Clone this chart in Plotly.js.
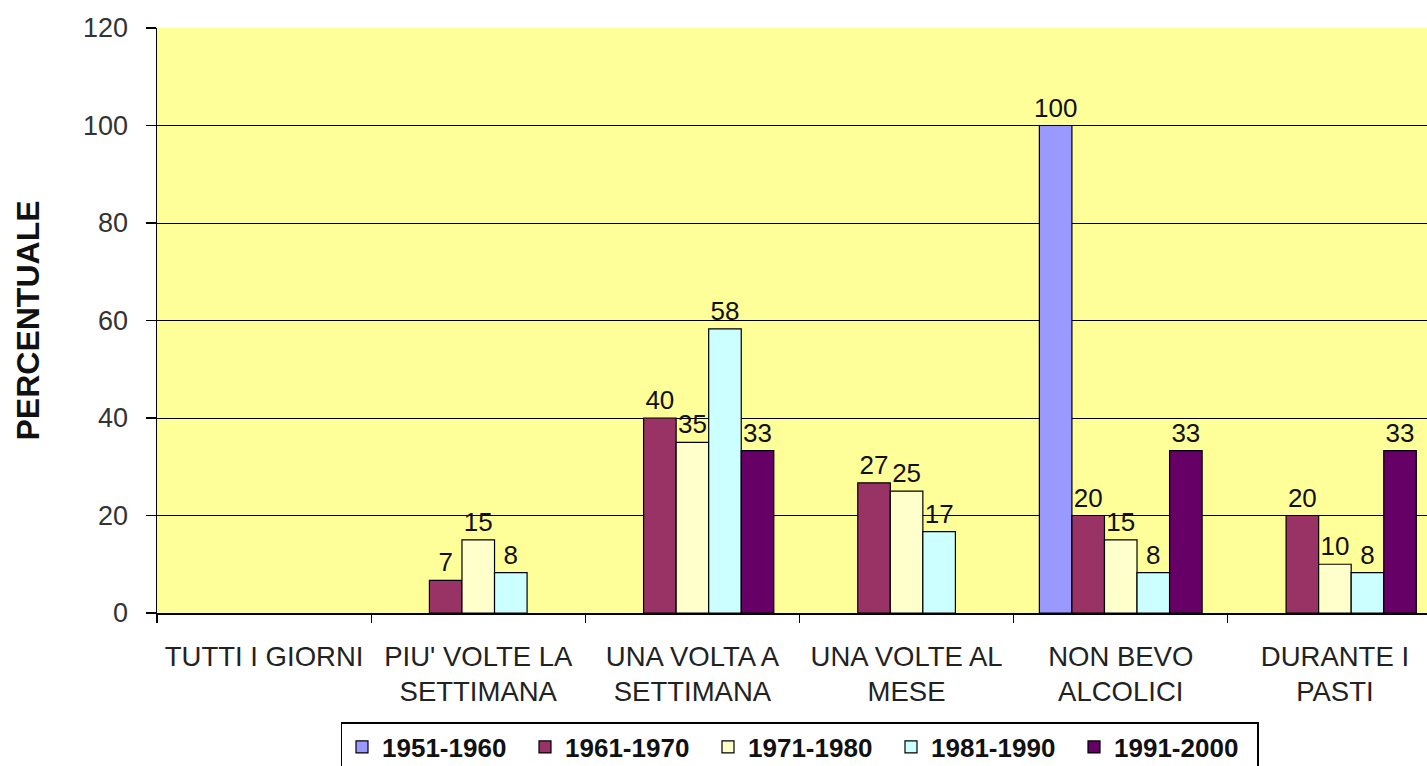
<!DOCTYPE html>
<html>
<head>
<meta charset="utf-8">
<script src="https://cdn.plot.ly/plotly-3.0.1.min.js"></script>
<style>
html, body { margin: 0; padding: 0; overflow: hidden; background: #ffffff; }
#chart { width: 1460px; height: 766px; }
</style>
</head>
<body>
<div id="chart"></div>
<script>
const categories = [
  "TUTTI I GIORNI",
  "PIU' VOLTE LA<br>SETTIMANA",
  "UNA VOLTA A<br>SETTIMANA",
  "UNA VOLTE AL<br>MESE",
  "NON BEVO<br>ALCOLICI",
  "DURANTE I<br>PASTI"
];
const seriesNames = ["1951-1960", "1961-1970", "1971-1980", "1981-1990", "1991-2000"];
const s1951 = [null, null, null, null, 100, null];
const s1961 = [null, 6.7, 40, 26.7, 20, 20];
const s1971 = [null, 15, 35, 25, 15, 10];
const s1981 = [null, 8.3, 58.3, 16.7, 8.3, 8.3];
const s1991 = [null, null, 33.3, null, 33.3, 33.3];
const seriesValues = [s1951, s1961, s1971, s1981, s1991];
const seriesColors = ["#9999FF", "#993366", "#FFFFCC", "#CCFFFF", "#660066"];
const yTicks = [0, 20, 40, 60, 80, 100, 120];

const FONT = "Liberation Sans, Arial, Helvetica, sans-serif";

const traces = seriesNames.map((name, i) => ({
  type: "bar",
  name: name,
  x: categories,
  y: seriesValues[i],
  marker: { color: seriesColors[i], line: { color: "#000000", width: 1.2 } },
  text: seriesValues[i].map(v => v === null ? "" : String(Math.round(v))),
  textposition: "outside",
  constraintext: "none",
  textfont: { family: FONT, size: 26, color: "#111111" },
  cliponaxis: false,
  hoverinfo: "x+y+name"
}));

const layout = {
  width: 1460,
  height: 766,
  margin: { l: 157, r: 18, t: 28, b: 153, autoexpand: false },
  paper_bgcolor: "#ffffff",
  plot_bgcolor: "#FFFF99",
  font: { family: FONT, size: 26, color: "#222222" },
  barmode: "group",
  bargap: 0.24,
  bargroupgap: 0,
  showlegend: true,
  legend: {
    orientation: "h",
    xref: "paper",
    x: 0.5, xanchor: "center",
    yref: "container",
    y: 0.0574, yanchor: "top",
    bgcolor: "#ffffff",
    bordercolor: "#000000",
    borderwidth: 1.5,
    font: { family: FONT, size: 26, color: "#111111", weight: "bold" },
    entrywidth: 138,
    itemwidth: 30,
    traceorder: "normal"
  },
  xaxis: {
    type: "category",
    tickson: "boundaries",
    ticks: "outside",
    ticklen: 8,
    tickcolor: "#000000",
    tickwidth: 1.2,
    ticklabelstandoff: 18,
    showline: true,
    linecolor: "#000000",
    linewidth: 1.5,
    showgrid: false,
    tickfont: { family: FONT, size: 27.5, color: "#222222" },
    automargin: false
  },
  yaxis: {
    range: [0, 120],
    tickvals: yTicks,
    ticktext: yTicks.map(String),
    ticks: "outside",
    ticklen: 10,
    tickcolor: "#000000",
    tickwidth: 1.2,
    ticklabelstandoff: 12,
    showline: true,
    linecolor: "#000000",
    linewidth: 1.5,
    showgrid: true,
    gridcolor: "#000000",
    gridwidth: 1,
    zeroline: false,
    tickfont: { family: FONT, size: 27, color: "#333333" },
    automargin: false,
    title: {
      text: "PERCENTUALE",
      font: { family: FONT, size: 32, color: "#111111", weight: "bold" },
      standoff: 34
    }
  }
};

Plotly.newPlot("chart", traces, layout, { displayModeBar: false, staticPlot: true });
</script>
</body>
</html>
